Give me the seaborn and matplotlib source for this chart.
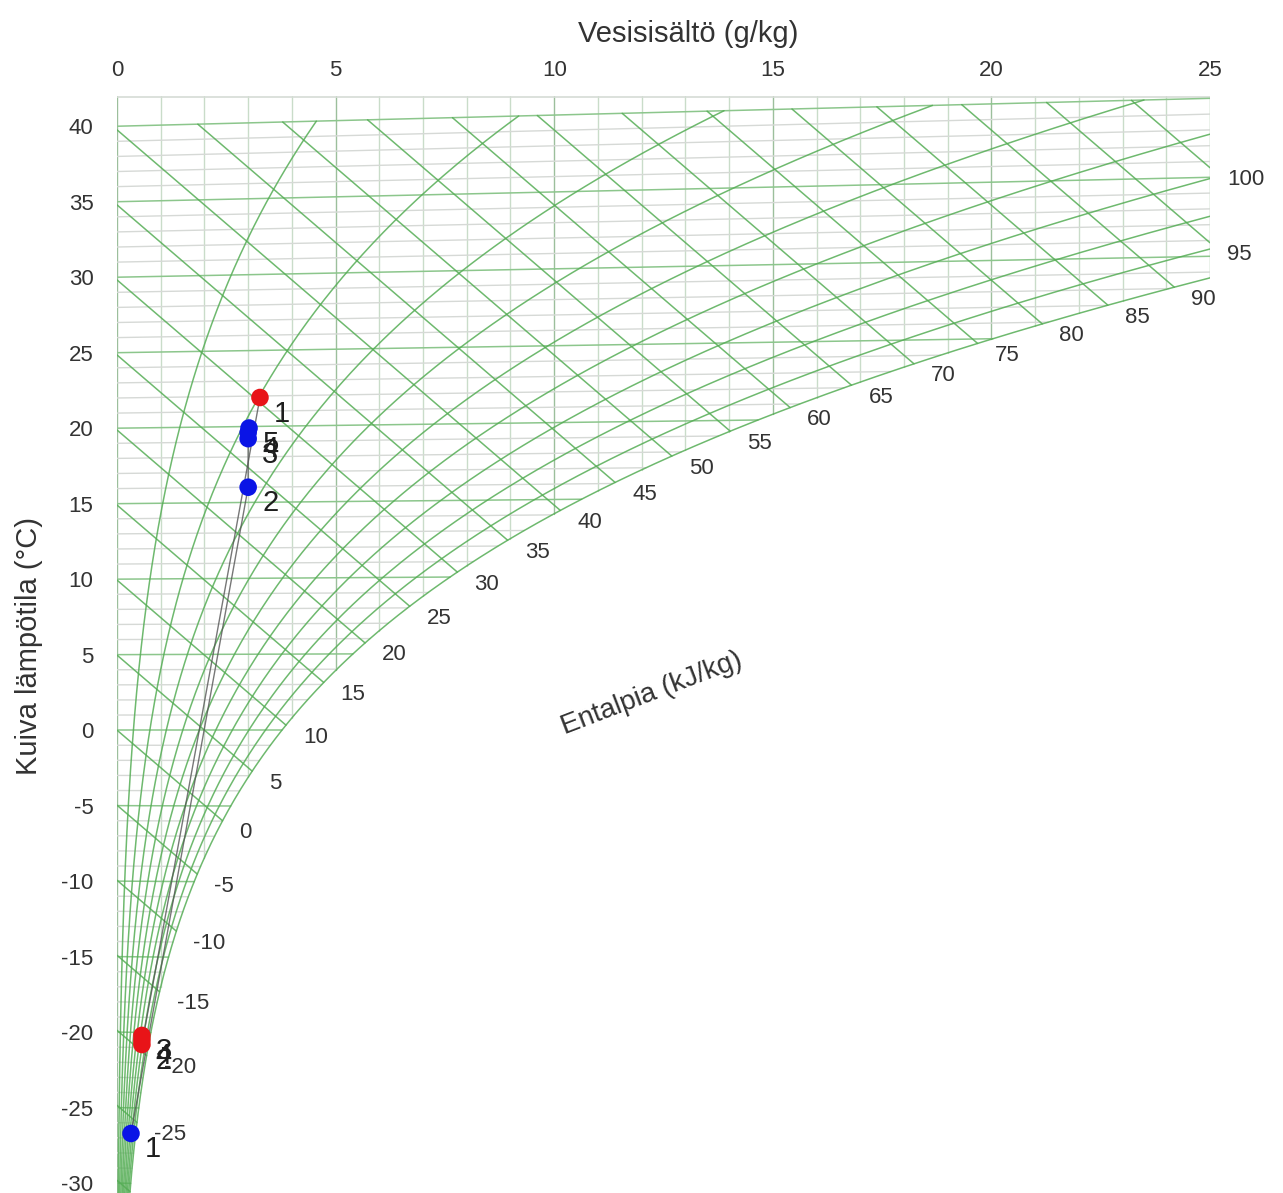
import numpy as np
import pandas as pd
import matplotlib
matplotlib.use('Agg')
import matplotlib.pyplot as plt
import seaborn as sns

# Process points (x = g/kg, t = dry bulb degC)
supply_labels = ['1', '2', '3', '4', '5']
supply_x = [0.32, 3.0, 3.0, 3.0, 3.02]
supply_t = [-26.7, 16.0, 19.2, 19.6, 19.9]

exhaust_labels = ['1', '2', '3', '4']
exhaust_x = [3.27, 0.57, 0.57, 0.57]
exhaust_t = [21.9, -20.8, -20.2, -20.5]

# Chart grid levels
temp_levels = list(range(-30, 41))
moisture_levels = list(range(0, 26))
rh_levels = [0.1, 0.2, 0.3, 0.4, 0.5, 0.6, 0.7, 0.8, 0.9, 1.0]
enthalpy_levels = list(range(-30, 105, 5))
enthalpy_labels = list(range(-25, 105, 5))
x_ticks = [0, 5, 10, 15, 20, 25]
y_ticks = list(range(-30, 45, 5))

P_ATM = 101.325
T_MAX = 40
Y_TOP = 42


def p_sat(t):
    return 0.61094 * np.exp(17.625 * t / (t + 243.04))


def moisture(t, phi):
    p = phi * p_sat(t)
    return 622.0 * p / (P_ATM - p)


def mollier_y(t, x):
    # Mollier chart: vertical coordinate is enthalpy of the dry part
    return t * (1 + 1.86e-3 * x / 1.006)


def enthalpy(t, x):
    return 1.006 * t + x / 1000.0 * (2501 + 1.86 * t)


# saturation curve
ts = np.linspace(-33, T_MAX, 3000)
xs = moisture(ts, 1.0)
hs = enthalpy(ts, xs)

sns.set_theme(style='white')
plt.rcParams['font.family'] = ['Liberation Sans', 'DejaVu Sans']
plt.rcParams['axes.unicode_minus'] = False

fig = plt.figure(figsize=(12.83, 11.93), dpi=100)
ax = fig.add_axes([117 / 1283, -0.0018, 1093 / 1283, 0.9213])
ax.set_xlim(0, 25)
ax.set_ylim(-30.8, Y_TOP)
for s in ax.spines.values():
    s.set_visible(False)

minor_col = '#d6d9d6'
major_col = '#8cc68c'
green = '#55ad55'
txt_col = '#333333'

# vertical lines (constant moisture)
for k in moisture_levels:
    if k == 0:
        y0 = -40
    else:
        tk = np.interp(k, xs, ts)
        y0 = mollier_y(tk, k)
    col = '#9cbf9c' if k % 5 == 0 else '#c9dcc9'
    ax.plot([k, k], [y0, Y_TOP], color=col, lw=1.0, zorder=1)
ax.plot([0, 25], [Y_TOP - 0.05, Y_TOP - 0.05], color='#d6dcd6', lw=1.2, zorder=1)

# isotherms
for t in temp_levels:
    x_end = min(moisture(t, 1.0), 25)
    col = major_col if t % 5 == 0 else minor_col
    lw = 1.1 if t % 5 == 0 else 1.0
    ax.plot([0, x_end], [t, mollier_y(t, x_end)], color=col, lw=lw, zorder=1)

# relative humidity curves
trh = np.linspace(-32, T_MAX, 400)
rh_df = pd.concat([
    pd.DataFrame({'x': moisture(trh, phi), 'y': mollier_y(trh, moisture(trh, phi)), 'phi': phi})
    for phi in rh_levels
])
sns.lineplot(data=rh_df, x='x', y='y', units='phi', estimator=None, sort=False,
             color=green, lw=1.1, alpha=0.85, ax=ax, zorder=2)

# enthalpy lines
rows = []
ends = {}
for h in enthalpy_levels:
    if h / 1.006 <= T_MAX:
        x0 = 0.0
    else:
        x0 = (h - 1.006 * T_MAX) * 1000 / (2501 + 1.86 * T_MAX)
    th = np.interp(h, hs, ts)
    x1 = min(moisture(th, 1.0), 25)
    for xx in (x0, x1):
        rows.append({'x': xx, 'y': (h - 2.501 * xx) / 1.006, 'h': h})
    ends[h] = (x1, (h - 2.501 * x1) / 1.006)
h_df = pd.DataFrame(rows)
sns.lineplot(data=h_df, x='x', y='y', units='h', estimator=None, sort=False,
             color=green, lw=1.1, alpha=0.85, ax=ax, zorder=2)

for h in enthalpy_labels:
    ax.annotate(str(h), ends[h], xytext=(17, -12), textcoords='offset pixels',
                ha='left', va='center', fontsize=16, color=txt_col, annotation_clip=False)

ax.text(12.24, 2.4, 'Entalpia (kJ/kg)', rotation=21, ha='center', va='center',
        fontsize=20, color=txt_col)

# process points
proc = pd.concat([
    pd.DataFrame({'x': supply_x, 't': supply_t, 'label': supply_labels, 'series': 'tulo'}),
    pd.DataFrame({'x': exhaust_x, 't': exhaust_t, 'label': exhaust_labels, 'series': 'poisto'}),
], ignore_index=True)
proc['y'] = mollier_y(proc['t'], proc['x'])

sns.lineplot(data=proc, x='x', y='y', units='series', estimator=None, sort=False,
             color='#555555', lw=1.0, alpha=0.8, ax=ax, zorder=3)
sns.scatterplot(data=proc, x='x', y='y', hue='series',
                palette={'tulo': '#0a14e6', 'poisto': '#e81418'},
                s=160, edgecolor='none', legend=False, ax=ax, zorder=4)
for _, r in proc.iterrows():
    ax.annotate(r['label'], (r['x'], r['y']), xytext=(22, -16), textcoords='offset pixels',
                ha='center', va='center', fontsize=21, color='#1e1e1e')

# axes text
ax.set_xticks(x_ticks)
ax.set_yticks(y_ticks)
ax.xaxis.tick_top()
ax.tick_params(axis='both', length=0, labelsize=16, labelcolor=txt_col)
ax.tick_params(axis='x', pad=11)
ax.tick_params(axis='y', pad=17)
ax.xaxis.set_label_position('top')
ax.set_xlabel('Vesisisältö (g/kg)', fontsize=21, color=txt_col)
ax.set_ylabel('Kuiva lämpötila (°C)', fontsize=21, color=txt_col)
ax.xaxis.set_label_coords((688 - 117) / 1093, 1 + 54 / 1099)
ax.yaxis.set_label_coords(-(117 - 43) / 1093, (1195 - 646) / 1099)

fig.savefig('out.png', dpi=100)
